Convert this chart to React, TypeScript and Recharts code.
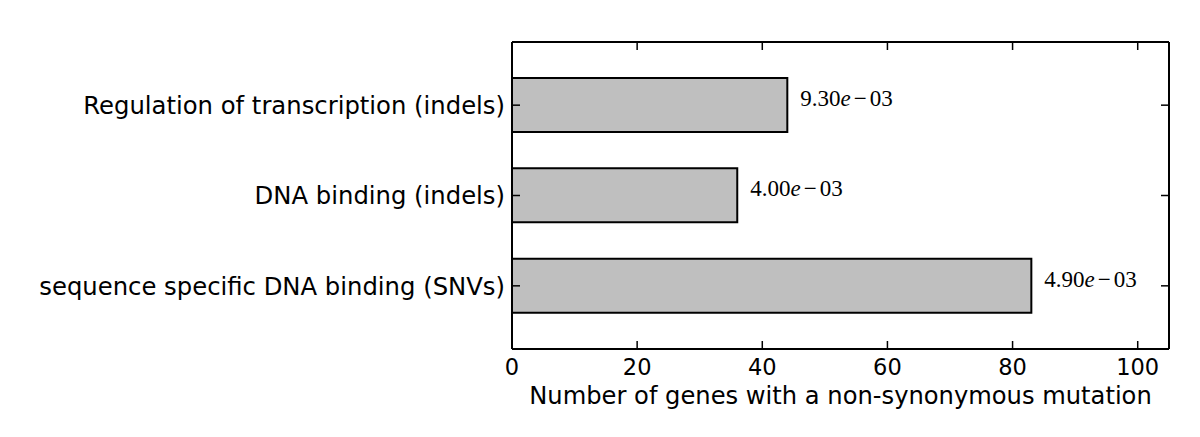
import React from 'react';
import { BarChart, Bar, XAxis, YAxis, LabelList } from 'recharts';

const categories = [
  'Regulation of transcription (indels)',
  'DNA binding (indels)',
  'sequence specific DNA binding (SNVs)',
];
const geneCounts = [44, 36, 83];
const pValueLabels = ['9.30e-03', '4.00e-03', '4.90e-03'];
const xTicks = [0, 20, 40, 60, 80, 100];
const xDomain = [0, 105];
const xLabel = 'Number of genes with a non-synonymous mutation';

const data = categories.map((name, i) => ({ name, count: geneCounts[i], pLabel: pValueLabels[i] }));

const SANS = 'DejaVu Sans';
const SERIF = 'Liberation Serif';

const BottomTick = (props: any) => {
  const { x, y, payload } = props;
  return (
    <g>
      <line x1={x} y1={y} x2={x} y2={y - 8} stroke="#000" strokeWidth={1.5} />
      <text x={x} y={y + 26} textAnchor="middle" fontFamily={SANS} fontSize={22.5} fill="#000">
        {payload.value}
      </text>
    </g>
  );
};

const TopTick = (props: any) => {
  const { x, y } = props;
  return <line x1={x} y1={y} x2={x} y2={y + 8} stroke="#000" strokeWidth={1.5} />;
};

const LeftTick = (props: any) => {
  const { x, y, payload } = props;
  return (
    <g>
      <line x1={x} y1={y} x2={x + 8} y2={y} stroke="#000" strokeWidth={1.5} />
      <text x={x - 7} y={y} dy="0.36em" textAnchor="end" fontFamily={SANS} fontSize={24.3} fill="#000">
        {payload.value}
      </text>
    </g>
  );
};

const RightTick = (props: any) => {
  const { x, y } = props;
  return <line x1={x} y1={y} x2={x - 8} y2={y} stroke="#000" strokeWidth={1.5} />;
};

const PLabel = (props: any) => {
  const { x, y, width, height, value } = props;
  const [mant, exp] = String(value).split('e');
  const expDigits = exp.replace('-', '');
  return (
    <text x={x + width + 13} y={y + height / 2 + 1} fontFamily={SERIF} fontSize={23} fill="#000">
      {mant}
      <tspan fontStyle="italic">e</tspan>
      <tspan dx={3}>{'\u2212'}</tspan>
      <tspan dx={3}>{expDigits}</tspan>
    </text>
  );
};

export default function App() {
  return (
    <div style={{ position: 'absolute', left: 0, top: 0, background: '#fff' }}>
      <BarChart
        width={1200}
        height={437}
        data={data}
        layout="vertical"
        margin={{ top: 41, right: 30, bottom: 0, left: 511 }}
      >
        <XAxis
          type="number"
          dataKey="count"
          domain={xDomain}
          ticks={xTicks}
          interval={0}
          allowDataOverflow
          height={88}
          tickSize={0}
          tickMargin={0}
          tickLine={false}
          axisLine={{ stroke: '#000', strokeWidth: 2 }}
          tick={<BottomTick />}
          label={{
            value: xLabel,
            position: 'insideTop',
            offset: 38,
            fill: '#000',
            fontFamily: SANS,
            fontSize: 24.2,
          }}
        />
        <XAxis
          xAxisId="top"
          orientation="top"
          type="number"
          domain={xDomain}
          ticks={xTicks}
          interval={0}
          allowDataOverflow
          height={1}
          tickSize={0}
          tickMargin={0}
          tickLine={false}
          axisLine={{ stroke: '#000', strokeWidth: 2 }}
          tick={<TopTick />}
        />
        <YAxis
          type="category"
          dataKey="name"
          width={1}
          interval={0}
          padding={{ top: 18, bottom: 18 }}
          tickSize={0}
          tickMargin={0}
          tickLine={false}
          axisLine={{ stroke: '#000', strokeWidth: 2 }}
          tick={<LeftTick />}
        />
        <YAxis
          yAxisId="right"
          orientation="right"
          type="category"
          dataKey="name"
          width={1}
          interval={0}
          padding={{ top: 18, bottom: 18 }}
          tickSize={0}
          tickMargin={0}
          tickLine={false}
          axisLine={{ stroke: '#000', strokeWidth: 2 }}
          tick={<RightTick />}
        />
        <Bar dataKey="count" fill="#bfbfbf" stroke="#000" strokeWidth={2} barSize={54} isAnimationActive={false}>
          <LabelList dataKey="pLabel" content={<PLabel />} />
        </Bar>
      </BarChart>
    </div>
  );
}
